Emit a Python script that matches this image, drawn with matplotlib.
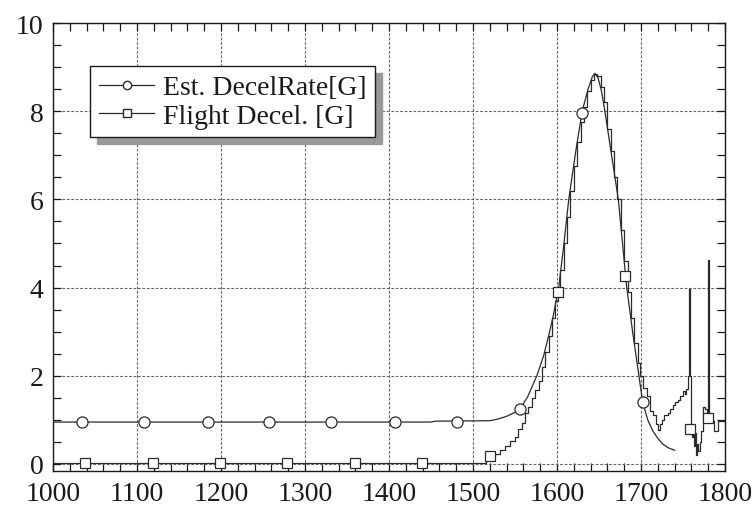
import matplotlib
matplotlib.use("Agg")
import matplotlib.pyplot as plt
from matplotlib.ticker import MultipleLocator

plt.rcParams['font.family'] = ['Liberation Serif', 'DejaVu Serif']

# Est. DecelRate [G] curve
est_x = [1000, 1450, 1455, 1520, 1530, 1540, 1550, 1556, 1565, 1576, 1584, 1590,
         1596, 1602, 1608, 1614, 1622, 1630, 1637, 1642, 1645, 1649, 1653, 1657,
         1665, 1673, 1683, 1690, 1696, 1702, 1708, 1714, 1720, 1726, 1732, 1740]
est_y = [0.95, 0.95, 0.97, 0.98, 1.02, 1.08, 1.17, 1.25, 1.52, 2.0, 2.45, 2.9,
         3.4, 4.0, 4.95, 6.0, 7.05, 8.0, 8.5, 8.78, 8.86, 8.75, 8.45, 8.0,
         7.0, 6.0, 4.0, 3.0, 2.2, 1.4, 1.0, 0.75, 0.58, 0.45, 0.37, 0.31]
est_mx = [1035, 1108, 1184, 1257, 1331, 1407, 1481, 1556, 1630, 1702]
est_my = [0.95, 0.95, 0.95, 0.95, 0.95, 0.95, 0.96, 1.25, 7.95, 1.4]

# Flight Decel. [G] (stepped record)
fl_x = [1000, 1515, 1526, 1532, 1538, 1544, 1550, 1554, 1558, 1562, 1566, 1570,
        1574, 1578, 1582, 1586, 1590, 1594, 1598, 1601, 1604, 1608, 1612, 1616,
        1620, 1624, 1628, 1632, 1636, 1640, 1644, 1648, 1652, 1656, 1660, 1664,
        1668, 1672, 1676, 1680, 1684, 1688, 1692, 1696, 1699, 1702, 1707, 1711,
        1714, 1718, 1720, 1723, 1725, 1727, 1732, 1735, 1738, 1741, 1744, 1747,
        1750, 1752, 1754, 1756, 1757, 1758, 1759, 1761, 1762, 1763, 1764, 1765,
        1766, 1767, 1768, 1770, 1772, 1774, 1776, 1778, 1779, 1780, 1781, 1783,
        1786, 1787, 1790, 1792, 1798, 1800]
fl_y = [0.02, 0.17, 0.22, 0.31, 0.41, 0.51, 0.62, 0.80, 0.92, 1.15, 1.30, 1.49,
        1.67, 1.87, 2.2, 2.55, 2.9, 3.3, 3.7, 4.0, 4.4, 5.0, 5.6, 6.2,
        6.75, 7.3, 7.75, 8.1, 8.45, 8.7, 8.85, 8.8, 8.55, 8.2, 7.6, 7.1,
        6.5, 6.0, 5.3, 4.6, 3.9, 3.3, 2.75, 2.3, 2.0, 1.72, 1.53, 1.2,
        1.1, 0.9, 0.76, 0.9, 1.0, 1.1, 1.15, 1.25, 1.33, 1.4, 1.45, 1.55,
        1.65, 1.58, 1.7, 2.0, 3.97, 2.0, 0.8, 0.6, 0.85, 0.4, 0.7, 0.3,
        0.2, 0.45, 0.3, 0.5, 0.75, 1.3, 1.25, 1.04, 1.15, 4.63, 1.0, 0.97,
        0.97, 0.74, 0.74, 0.97, 0.97, 0.9]
fl_mx = [1038, 1119, 1199, 1279, 1360, 1439, 1520, 1601, 1681, 1758, 1780]
fl_my = [0.03, 0.03, 0.03, 0.03, 0.03, 0.03, 0.17, 3.9, 4.26, 0.8, 1.04]

x_ticks = [1000, 1100, 1200, 1300, 1400, 1500, 1600, 1700, 1800]
y_ticks = [0, 2, 4, 6, 8, 10]

fig = plt.figure(figsize=(7.53, 5.06), dpi=100)
ax = fig.add_axes([53/753, (506-472)/506, (725-53)/753, (472-24)/506])

lc = '#2a2a2a'
ax.plot(est_x, est_y, color=lc, lw=0.9, zorder=3)
ax.plot(est_mx, est_my, ls='none', marker='o', ms=8, mfc='white', mec=lc, mew=0.9, zorder=4)
ax.plot(fl_x, fl_y, color=lc, lw=0.9, drawstyle='steps-post', zorder=3)
ax.plot(fl_mx, fl_my, ls='none', marker='s', ms=7, mfc='white', mec=lc, mew=0.9, zorder=4)

# legend proxies
h1, = ax.plot([], [], color=lc, lw=0.9, marker='o', ms=6, mfc='white', mec=lc)
h2, = ax.plot([], [], color=lc, lw=0.9, marker='s', ms=6, mfc='white', mec=lc)

ax.set_xlim(1000, 1800)
ax.set_ylim(-0.16, 10)
ax.set_xticks(x_ticks)
ax.set_yticks(y_ticks)
ax.set_xticklabels([str(v) for v in x_ticks])
ax.set_yticklabels([str(v) for v in y_ticks])
ax.xaxis.set_minor_locator(MultipleLocator(20))
ax.yaxis.set_minor_locator(MultipleLocator(0.5))
ax.tick_params(which='both', direction='in', top=True, right=True,
               labelsize=20, colors='#1a1a1a', width=0.9)
ax.tick_params(which='major', length=6, pad=7)
ax.tick_params(which='minor', length=5.5)
ax.grid(True, which='major', color='#666666', lw=0.8, ls=(0, (2.5, 1.5)))
for s in ax.spines.values():
    s.set_color('#1a1a1a')
    s.set_linewidth(1.0)

leg = ax.legend([h1, h2], ['Est. DecelRate[G]', 'Flight Decel. [G]'],
                loc='upper left', bbox_to_anchor=(0.055, 0.904),
                fontsize=20, frameon=True, fancybox=False,
                shadow={'ox': 5, 'oy': -5, 'color': '0.6', 'alpha': 1},
                labelspacing=0.1, handlelength=2.0, handletextpad=0.3,
                borderpad=0.32, borderaxespad=0, labelcolor='#1a1a1a')
leg.get_frame().set_edgecolor('#1a1a1a')
leg.get_frame().set_linewidth(1.0)
leg.get_frame().set_alpha(1)

fig.savefig('out.png', dpi=100)
